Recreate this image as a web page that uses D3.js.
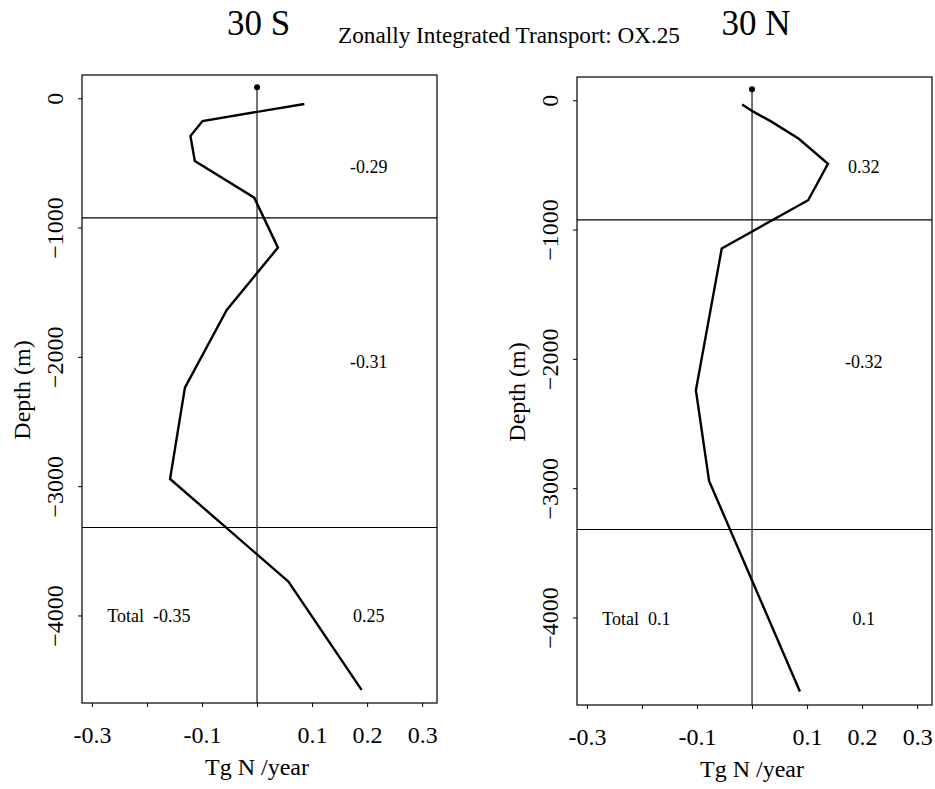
<!DOCTYPE html>
<html>
<head>
<meta charset="utf-8">
<script src="https://cdn.jsdelivr.net/npm/d3@7"></script>
<style>
  html, body { margin: 0; padding: 0; background: #fff; }
  svg { display: block; }
  svg text { fill: #000; white-space: pre; font-family: "Liberation Serif", "Times New Roman", serif !important; }
</style>
</head>
<body>
<svg id="chart" width="935" height="789"></svg>
<script>
// ---------- data ----------
const panelTitles = ["30 S", "30 N"];
const subtitle = "Zonally Integrated Transport: OX.25";

// 30 S profile (depth in m, transport in Tg N / year)
const depthS = [-44, -176, -292, -485, -769, -1155, -1637, -2238, -2944, -3738, -4576];
const transS = [0.086, -0.099, -0.121, -0.113, -0.005, 0.038, -0.055, -0.131, -0.158, 0.057, 0.19];

// 30 N profile
const depthN = [-33, -90, -167, -298, -492, -773, -1146, -2243, -2944, -4572];
const transN = [-0.018, 0.003, 0.036, 0.085, 0.138, 0.102, -0.055, -0.102, -0.078, 0.087];

// layer boundaries and layer-integrated values
const layerBounds = [-925, -3320];
const layerDepthsS = [-580, -2088, -4050];
const layerValuesS = ["-0.29", "-0.31", "0.25"];
const layerDepthsN = [-561, -2068, -4060];
const layerValuesN = ["0.32", "-0.32", "0.1"];
const totalLabels = ["Total  -0.35", "Total  0.1"];
const totalDepths = [-4050, -4060];
const markerDepth = 85;

// axes
const depthTicks = [0, -1000, -2000, -3000, -4000];
const transTicks = [-0.3, -0.2, -0.1, 0, 0.1, 0.2, 0.3];
const transTickLabels = ["-0.3", "", "-0.1", "", "0.1", "0.2", "0.3"];
const xTitle = "Tg N /year";
const yTitle = "Depth (m)";

// ---------- layout ----------
const W = 355, H = 628;
const panels = [
  { x: 82, y: 75, depth: depthS, trans: transS, ld: layerDepthsS, lv: layerValuesS, total: totalLabels[0], td: totalDepths[0] },
  { x: 577, y: 77, depth: depthN, trans: transN, ld: layerDepthsN, lv: layerValuesN, total: totalLabels[1], td: totalDepths[1] }
];

const svg = d3.select("#chart");

// titles
svg.append("text").attr("x", 258.5).attr("y", 35).attr("text-anchor", "middle")
  .attr("font-size", 35).text(panelTitles[0]);
svg.append("text").attr("x", 756).attr("y", 35).attr("text-anchor", "middle")
  .attr("font-size", 35).text(panelTitles[1]);
svg.append("text").attr("x", 338).attr("y", 42.5).attr("font-size", 23)
  .attr("textLength", 342).attr("lengthAdjust", "spacingAndGlyphs").text(subtitle);

const x = d3.scaleLinear().domain([-0.318, 0.327]).range([0, W]);
const y = d3.scaleLinear().domain([180, -4677]).range([0, H]);

panels.forEach(p => {
  const g = svg.append("g").attr("transform", `translate(${p.x},${p.y})`);

  // frame
  g.append("rect").attr("x", 0).attr("y", 0).attr("width", W).attr("height", H)
    .attr("fill", "none").attr("stroke", "#000").attr("stroke-width", 1.2);

  // layer boundary lines
  g.selectAll("line.layer").data(layerBounds).join("line")
    .attr("class", "layer")
    .attr("x1", 0).attr("x2", W)
    .attr("y1", d => y(d)).attr("y2", d => y(d))
    .attr("stroke", "#000").attr("stroke-width", 1.1);

  // zero line with marker
  g.append("line")
    .attr("x1", x(0)).attr("x2", x(0))
    .attr("y1", y(markerDepth)).attr("y2", H)
    .attr("stroke", "#000").attr("stroke-width", 1.1);
  g.append("circle").attr("cx", x(0)).attr("cy", y(markerDepth)).attr("r", 3).attr("fill", "#000");

  // profile
  const pts = p.depth.map((d, i) => [p.trans[i], d]);
  g.append("path").datum(pts)
    .attr("d", d3.line().x(d => x(d[0])).y(d => y(d[1])))
    .attr("fill", "none").attr("stroke", "#000").attr("stroke-width", 2.4)
    .attr("stroke-linejoin", "miter");

  // layer values
  g.selectAll("text.lv").data(p.lv).join("text")
    .attr("class", "lv")
    .attr("x", x(0.203)).attr("y", (d, i) => y(p.ld[i]))
    .attr("text-anchor", "middle").attr("font-size", 18)
    .text(d => d);
  g.append("text").attr("x", x(-0.272)).attr("y", y(p.td))
    .attr("font-size", 18).text(p.total);

  // x axis
  const xa = g.append("g").attr("transform", `translate(0,${H})`)
    .call(d3.axisBottom(x).tickValues(transTicks).tickSize(4)
      .tickFormat((d, i) => transTickLabels[i]));
  xa.attr("font-family", null).attr("font-size", null);
  xa.select(".domain").remove();
  xa.selectAll(".tick line").attr("stroke", "#000");
  xa.selectAll(".tick text").attr("y", 40).attr("dy", 0)
    .attr("font-size", 24).attr("fill", "#000");

  // y axis
  const ya = g.append("g")
    .call(d3.axisLeft(y).tickValues(depthTicks).tickSize(4).tickFormat(d3.format("d")));
  ya.attr("font-family", null).attr("font-size", null);
  ya.select(".domain").remove();
  ya.selectAll(".tick line").attr("stroke", "#000");
  ya.selectAll(".tick text")
    .attr("transform", "rotate(-90)")
    .attr("x", 0).attr("y", -19).attr("dy", 0)
    .attr("text-anchor", "middle")
    .attr("font-size", 24).attr("fill", "#000");

  // axis titles
  g.append("text").attr("x", x(0)).attr("y", H + 72)
    .attr("text-anchor", "middle").attr("font-size", 24).text(xTitle);
  g.append("text")
    .attr("transform", `translate(-52,${H / 2 + 1}) rotate(-90)`)
    .attr("text-anchor", "middle").attr("font-size", 24).text(yTitle);
});
</script>
</body>
</html>
